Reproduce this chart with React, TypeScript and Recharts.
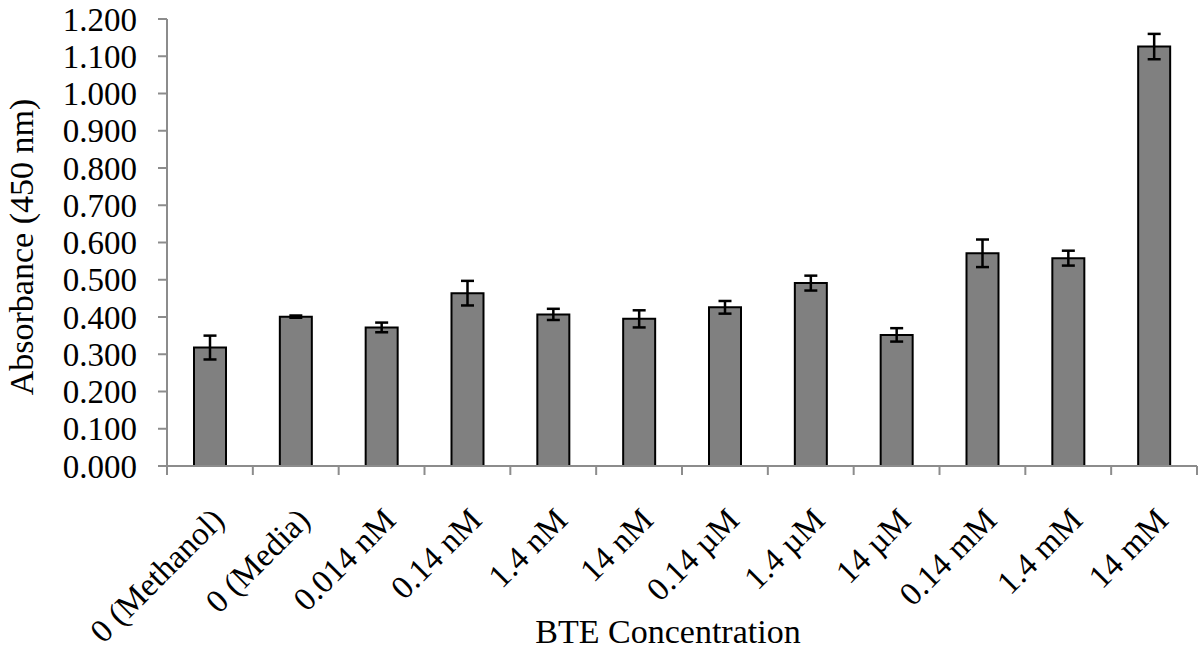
import React from "react";
import { BarChart, Bar, XAxis, YAxis, ErrorBar } from "recharts";

const categories = [
  "0 (Methanol)",
  "0 (Media)",
  "0.014 nM",
  "0.14 nM",
  "1.4 nM",
  "14 nM",
  "0.14 µM",
  "1.4 µM",
  "14 µM",
  "0.14 mM",
  "1.4 mM",
  "14 mM",
];
const absorbance = [0.318, 0.401, 0.372, 0.464, 0.407, 0.395, 0.426, 0.491, 0.352, 0.571, 0.558, 1.126];
const errors = [0.032, 0.003, 0.013, 0.033, 0.015, 0.023, 0.017, 0.02, 0.018, 0.037, 0.02, 0.034];
const yTicks = [0, 0.1, 0.2, 0.3, 0.4, 0.5, 0.6, 0.7, 0.8, 0.9, 1.0, 1.1, 1.2];

const data = categories.map((name, i) => ({ name, value: absorbance[i], err: errors[i] }));

// layout
const W = 1200;
const H = 651;
const PLOT_LEFT = 167;
const PLOT_RIGHT = 1197;
const PLOT_TOP = 19;
const PLOT_BOTTOM = 466;
const BAND = (PLOT_RIGHT - PLOT_LEFT) / categories.length;
const AXIS_GREY = "#8c8c8c";
const textStyle = { fontFamily: "'Liberation Serif', 'DejaVu Serif', serif" };

function XTick(props: any) {
  const { x, payload } = props;
  const i = props.index ?? payload.index;
  const half = BAND / 2;
  const tx = x + 16;
  const ty = PLOT_BOTTOM + 56;
  return (
    <g>
      <line x1={x - half} y1={PLOT_BOTTOM} x2={x - half} y2={PLOT_BOTTOM + 9} stroke={AXIS_GREY} strokeWidth={2} />
      {i === categories.length - 1 && (
        <line x1={x + half} y1={PLOT_BOTTOM} x2={x + half} y2={PLOT_BOTTOM + 9} stroke={AXIS_GREY} strokeWidth={2} />
      )}
      <text
        x={tx}
        y={ty}
        transform={`rotate(-45, ${tx}, ${ty})`}
        textAnchor="end"
        fontSize={33}
        style={textStyle}
        fill="#000"
      >
        {payload.value}
      </text>
    </g>
  );
}

function YTick(props: any) {
  const { y, payload } = props;
  const x = PLOT_LEFT - 9 - 21;
  return (
    <text x={x} y={y} dy="0.35em" textAnchor="end" fontSize={33} style={textStyle} fill="#000">
      {Number(payload.value).toFixed(3)}
    </text>
  );
}

export default function App() {
  return (
    <div style={{ position: "absolute", left: 0, top: 0, background: "#fff" }}>
      <BarChart
        width={W}
        height={H}
        data={data}
        margin={{ top: PLOT_TOP, right: W - PLOT_RIGHT, bottom: 0, left: 0 }}
      >
        <XAxis
          dataKey="name"
          height={H - PLOT_BOTTOM}
          axisLine={{ stroke: AXIS_GREY, strokeWidth: 2 }}
          tickLine={false}
          tickSize={0}
          interval={0}
          tick={<XTick />}
          label={{
            content: () => (
              <text x={668} y={643} textAnchor="middle" fontSize={34} style={textStyle} fill="#000">
                BTE Concentration
              </text>
            ),
          }}
        />
        <YAxis
          width={PLOT_LEFT}
          domain={[0, 1.2]}
          ticks={yTicks}
          interval={0}
          axisLine={{ stroke: AXIS_GREY, strokeWidth: 2 }}
          tickLine={{ stroke: AXIS_GREY, strokeWidth: 2 }}
          tickSize={9}
          tickMargin={21}
          tick={<YTick />}
          label={{
            content: () => (
              <text
                x={21}
                y={247}
                transform="rotate(-90, 21, 247)"
                textAnchor="middle"
                dominantBaseline="central"
                fontSize={34}
                style={textStyle}
                fill="#000"
              >
                Absorbance (450 nm)
              </text>
            ),
          }}
        />
        <Bar dataKey="value" fill="#808080" stroke="#000" strokeWidth={2} barSize={32} isAnimationActive={false}>
          <ErrorBar dataKey="err" direction="y" width={6.5} stroke="#000" strokeWidth={2.5} isAnimationActive={false} />
        </Bar>
      </BarChart>
    </div>
  );
}
